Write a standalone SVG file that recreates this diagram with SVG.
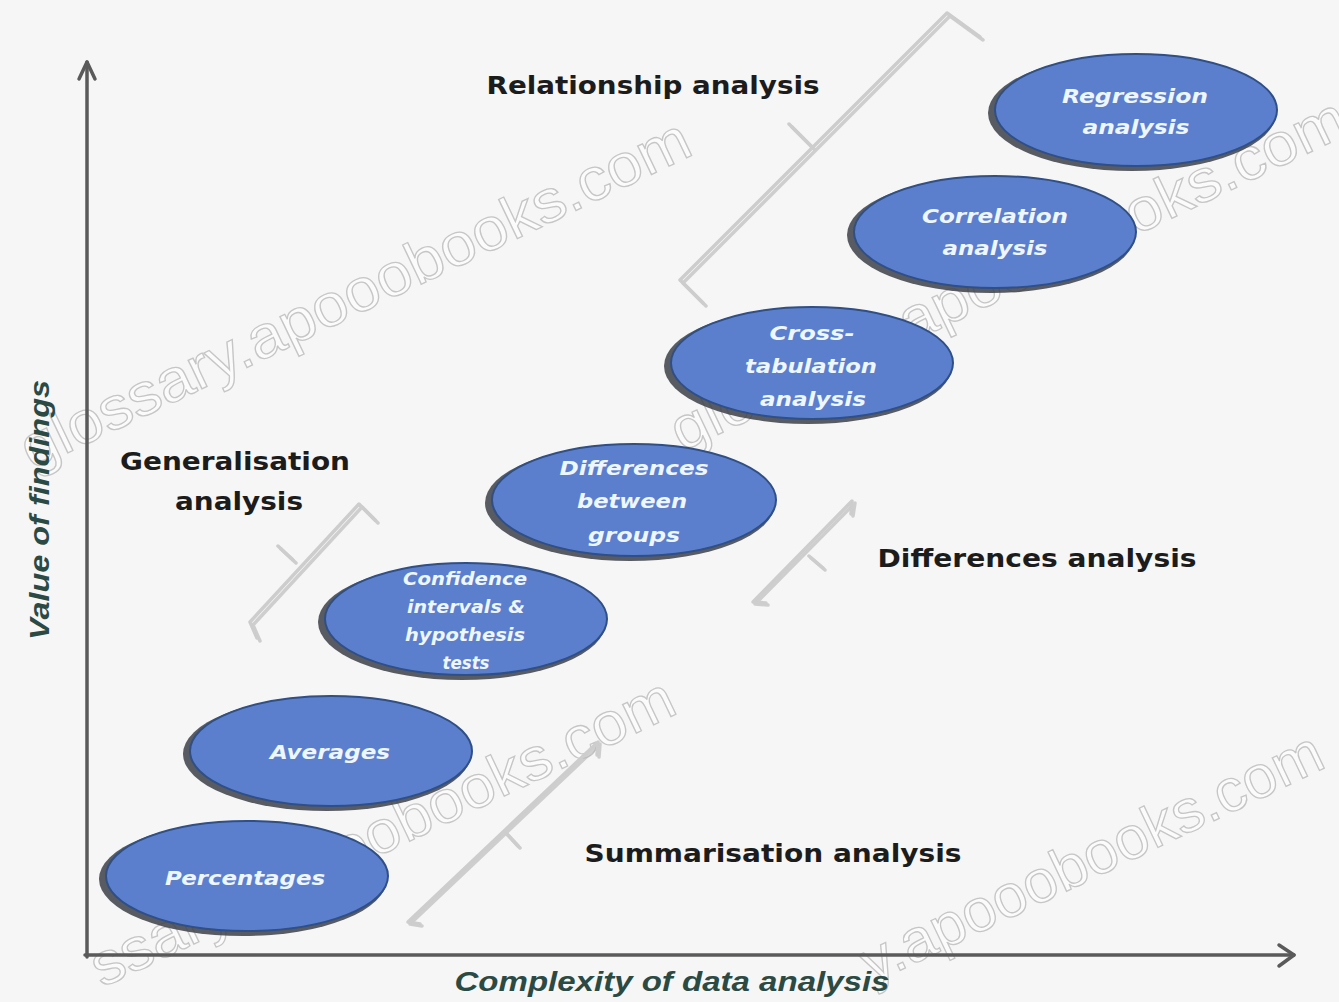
<svg xmlns="http://www.w3.org/2000/svg" width="1339" height="1002" viewBox="0 0 1339 1002">
  <defs>
    <style>
      .bg { fill: #f6f6f6; }
      .wm { font-family: "Liberation Sans", Arial, sans-serif; font-size: 60px; fill: #fbfbfb; stroke: #c6c6c6; stroke-width: 1.3; }
      .axis { stroke: #5a5a5a; stroke-width: 3.5; fill: none; stroke-linecap: round; stroke-linejoin: round; }
      .brace { stroke: #cdcdcd; stroke-width: 3.5; fill: none; stroke-linecap: round; stroke-linejoin: round; }
      .brace-sh { stroke: #b4b4b4; stroke-width: 3.5; fill: none; stroke-linecap: round; stroke-linejoin: round; opacity: 0.6; }
      .shadow { fill: #3c3f48; opacity: 0.85; }
      .ell { fill: #5b7fcd; stroke: #2f4f86; stroke-width: 2; }
      .lbl { font-family: "DejaVu Sans", "Liberation Sans", sans-serif; font-size: 20px; font-weight: bold; font-style: italic; fill: #eef6ff; text-anchor: middle; }
      .lbl-s { font-size: 17px; }
      .head { font-family: "DejaVu Sans", "Liberation Sans", sans-serif; font-size: 24px; font-weight: bold; fill: #1c1c1c; text-anchor: middle; }
      .axl { font-family: "Liberation Sans", Arial, sans-serif; font-size: 27px; font-weight: bold; font-style: italic; fill: #2c4a44; text-anchor: middle; }
    </style>
  </defs>

  <rect class="bg" x="0" y="0" width="1339" height="1002"/>

  <!-- watermark -->
  <g id="watermark">
    <text class="wm" transform="translate(32,470) rotate(-25.5)" textLength="735" lengthAdjust="spacingAndGlyphs">glossary.apooobooks.com</text>
    <text class="wm" transform="translate(682,452) rotate(-25.5)" textLength="742" lengthAdjust="spacingAndGlyphs">glossary.apooobooks.com</text>
    <text class="wm" transform="translate(102,988) rotate(-25.5)" textLength="640" lengthAdjust="spacingAndGlyphs">ssary.apooobooks.com</text>
    <text class="wm" transform="translate(872,984) rotate(-25.5)" textLength="505" lengthAdjust="spacingAndGlyphs">y.apooobooks.com</text>
  </g>

  <!-- connectors: axes and braces -->
  <g id="connectors">
    <path class="axis" d="M87,957 L87,62"/>
    <path class="axis" d="M79,79 L87,62 L95,79"/>
    <path class="axis" d="M85,955 L1294,955"/>
    <path class="axis" d="M1279,945 L1294,955 L1279,966"/>

    <!-- Relationship brace -->
    <path class="brace-sh" d="M706,306 L683,283 L950,16 L983,40 M815,150 L792,127"/>
    <path class="brace" d="M703,303 L680,280 L947,13 L980,37 M812,147 L789,124"/>
    <!-- Generalisation brace -->
    <path class="brace-sh" d="M260,641 L253,625 L362,507 L378,523 M296,563 L281,549"/>
    <path class="brace" d="M257,638 L250,622 L359,504 L375,520 M293,560 L278,546"/>
    <!-- Differences brace -->
    <path class="brace-sh" d="M768,605 L755,604 L855,503 L853,516 M811,558 L825,570"/>
    <path class="brace" d="M766,603 L753,602 L852,501 L851,514 M809,556 L823,568"/>
    <!-- Summarisation brace -->
    <path class="brace-sh" d="M422,926 L410,924 L600,744 L599,757 M507,834 L520,848"/>
    <path class="brace" d="M420,924 L408,922 L598,742 L597,755 M505,832 L518,846"/>
  </g>

  <!-- headings -->
  <g id="relationship-analysis"><text class="head" x="653" y="94" textLength="333" lengthAdjust="spacingAndGlyphs">Relationship analysis</text></g>
  <g id="generalisation-analysis">
    <text class="head" x="235" y="470" textLength="230" lengthAdjust="spacingAndGlyphs">Generalisation</text>
    <text class="head" x="239" y="510" textLength="128" lengthAdjust="spacingAndGlyphs">analysis</text>
  </g>
  <g id="differences-analysis"><text class="head" x="1037" y="567" textLength="319" lengthAdjust="spacingAndGlyphs">Differences analysis</text></g>
  <g id="summarisation-analysis"><text class="head" x="773" y="862" textLength="377" lengthAdjust="spacingAndGlyphs">Summarisation analysis</text></g>

  <!-- nodes -->
  <g id="regression">
    <ellipse class="shadow" cx="1132" cy="113" rx="144" ry="58"/>
    <ellipse class="ell" cx="1136" cy="110" rx="141" ry="56"/>
    <text class="lbl" x="1135" y="103" textLength="146" lengthAdjust="spacingAndGlyphs">Regression</text>
    <text class="lbl" x="1136" y="134" textLength="107" lengthAdjust="spacingAndGlyphs">analysis</text>
  </g>
  <g id="correlation">
    <ellipse class="shadow" cx="991" cy="235" rx="144" ry="58"/>
    <ellipse class="ell" cx="995" cy="232" rx="141" ry="56"/>
    <text class="lbl" x="995" y="223" textLength="146" lengthAdjust="spacingAndGlyphs">Correlation</text>
    <text class="lbl" x="995" y="255" textLength="105" lengthAdjust="spacingAndGlyphs">analysis</text>
  </g>
  <g id="cross-tabulation">
    <ellipse class="shadow" cx="808" cy="366" rx="144" ry="58"/>
    <ellipse class="ell" cx="812" cy="363" rx="141" ry="56"/>
    <text class="lbl" x="812" y="340" textLength="85" lengthAdjust="spacingAndGlyphs">Cross-</text>
    <text class="lbl" x="811" y="373" textLength="132" lengthAdjust="spacingAndGlyphs">tabulation</text>
    <text class="lbl" x="813" y="406" textLength="106" lengthAdjust="spacingAndGlyphs">analysis</text>
  </g>
  <g id="differences-between-groups">
    <ellipse class="shadow" cx="630" cy="503" rx="145" ry="58"/>
    <ellipse class="ell" cx="634" cy="500" rx="142" ry="56"/>
    <text class="lbl" x="634" y="475" textLength="149" lengthAdjust="spacingAndGlyphs">Differences</text>
    <text class="lbl" x="632" y="508" textLength="110" lengthAdjust="spacingAndGlyphs">between</text>
    <text class="lbl" x="634" y="542" textLength="92" lengthAdjust="spacingAndGlyphs">groups</text>
  </g>
  <g id="confidence-intervals">
    <ellipse class="shadow" cx="462" cy="622" rx="144" ry="58"/>
    <ellipse class="ell" cx="466" cy="619" rx="141" ry="56"/>
    <text class="lbl lbl-s" x="465" y="585" textLength="124" lengthAdjust="spacingAndGlyphs">Confidence</text>
    <text class="lbl lbl-s" x="466" y="613" textLength="118" lengthAdjust="spacingAndGlyphs">intervals  &amp;</text>
    <text class="lbl lbl-s" x="465" y="641" textLength="120" lengthAdjust="spacingAndGlyphs">hypothesis</text>
    <text class="lbl lbl-s" x="466" y="669" textLength="47" lengthAdjust="spacingAndGlyphs">tests</text>
  </g>
  <g id="averages">
    <ellipse class="shadow" cx="327" cy="754" rx="144" ry="57"/>
    <ellipse class="ell" cx="331" cy="751" rx="141" ry="55"/>
    <text class="lbl" x="330" y="759" textLength="120" lengthAdjust="spacingAndGlyphs">Averages</text>
  </g>
  <g id="percentages">
    <ellipse class="shadow" cx="243" cy="879" rx="144" ry="57"/>
    <ellipse class="ell" cx="247" cy="876" rx="141" ry="55"/>
    <text class="lbl" x="245" y="885" textLength="160" lengthAdjust="spacingAndGlyphs">Percentages</text>
  </g>

  <!-- axis labels -->
  <g id="y-axis-label"><text class="axl" transform="translate(49,510) rotate(-90)" textLength="260" lengthAdjust="spacingAndGlyphs">Value of findings</text></g>
  <g id="x-axis-label"><text class="axl" x="672" y="991" textLength="435" lengthAdjust="spacingAndGlyphs">Complexity of data analysis</text></g>
</svg>
